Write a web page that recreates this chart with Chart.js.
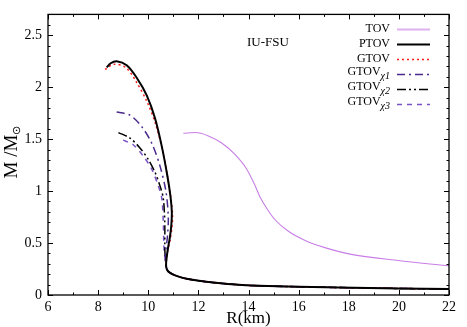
<!DOCTYPE html>
<html>
<head>
<meta charset="utf-8">
<script src="https://cdn.jsdelivr.net/npm/chart.js@4"></script>
<style>
  body { margin: 0; background: #fff; }
  canvas { display: block; }
</style>
</head>
<body>
<canvas id="mr" width="467" height="327"></canvas>
<script>
// mass-radius curves, R in km and M in solar masses
const tovR = [11.40, 11.87, 12.40, 12.93, 13.46, 13.93, 14.26, 14.46, 14.73, 15.06, 15.59, 16.26, 17.05, 18.05, 20.05, 22.0];
const tovM = [1.557, 1.563, 1.531, 1.462, 1.352, 1.21, 1.054, 0.943, 0.833, 0.724, 0.613, 0.525, 0.456, 0.393, 0.33, 0.28];

// shared low-mass branch
const tailR = [10.73, 10.71, 10.74, 10.83, 11.07, 11.53, 12.40, 13.9, 15.5, 17.6, 20.0, 22.0];
const tailM = [0.35, 0.29, 0.25, 0.22, 0.189, 0.157, 0.125, 0.094, 0.082, 0.072, 0.063, 0.057];

const ptovR = [8.34, 8.50, 8.74, 9.14, 9.54, 9.94, 10.27, 10.54, 10.76, 10.88, 10.94, 10.92, 10.86, 10.78].concat(tailR);
const ptovM = [2.19, 2.23, 2.25, 2.21, 2.09, 1.92, 1.70, 1.43, 1.15, 0.96, 0.80, 0.67, 0.55, 0.44].concat(tailM);

const gtovR = [8.28, 8.62, 9.10, 9.50, 9.95, 10.30, 10.58, 10.80, 10.92, 10.97, 10.94, 10.87, 10.78].concat(tailR);
const gtovM = [2.17, 2.22, 2.19, 2.06, 1.86, 1.64, 1.38, 1.10, 0.90, 0.76, 0.64, 0.53, 0.43].concat(tailM);

const chi1R = [8.74, 9.27, 9.74, 10.14, 10.47, 10.71, 10.80, 10.76, 10.70].concat(tailR.slice(1));
const chi1M = [1.76, 1.73, 1.62, 1.46, 1.24, 0.99, 0.74, 0.55, 0.42].concat(tailM.slice(1));

const chi2R = [8.81, 9.27, 9.67, 10.00, 10.27, 10.47, 10.60, 10.66, 10.66, 10.67].concat(tailR.slice(1));
const chi2M = [1.563, 1.51, 1.415, 1.305, 1.18, 1.05, 0.93, 0.70, 0.50, 0.38].concat(tailM.slice(1));

const chi3R = [9.00, 9.40, 9.80, 10.14, 10.40, 10.54, 10.60, 10.62, 10.65].concat(tailR.slice(1));
const chi3M = [1.49, 1.446, 1.337, 1.21, 1.05, 0.93, 0.70, 0.50, 0.38].concat(tailM.slice(1));

const seriesNames = ['TOV', 'PTOV', 'GTOV', 'GTOV', 'GTOV', 'GTOV'];
const seriesSubs = ['', '', '', 'χ1', 'χ2', 'χ3'];
const xTicks = [6, 8, 10, 12, 14, 16, 18, 20, 22];
const yTicks = [0, 0.5, 1, 1.5, 2, 2.5];

const serif = "'Liberation Serif'";

function pts(xs, ys) {
  return xs.map((x, i) => ({x: x, y: ys[i]}));
}

function line(i, xs, ys, color, width, dash) {
  return {
    label: seriesNames[i] + seriesSubs[i],
    data: pts(xs, ys),
    showLine: true,
    borderColor: color,
    backgroundColor: color,
    borderWidth: width,
    borderDash: dash,
    pointRadius: 0,
    tension: 0.3,
    fill: false
  };
}

// frame, inward ticks, titles and legend like the gnuplot original
const decor = {
  id: 'decor',
  afterDraw(chart) {
    const c = chart.ctx;
    const a = chart.chartArea;
    const xs = chart.scales.x, ys = chart.scales.y;
    c.save();
    c.strokeStyle = '#000';
    c.lineWidth = 1.3;
    c.strokeRect(a.left, a.top, a.right - a.left, a.bottom - a.top);
    c.lineWidth = 1;
    c.beginPath();
    for (let k = 0; k <= 27; k++) {
      const v = k / 10;
      const py = Math.round(ys.getPixelForValue(v)) + 0.5;
      const len = k % 5 === 0 ? 5 : 2.5;
      c.moveTo(a.left, py); c.lineTo(a.left + len, py);
      c.moveTo(a.right, py); c.lineTo(a.right - len, py);
    }
    for (let v = 6; v <= 22; v++) {
      const px = Math.round(xs.getPixelForValue(v)) + 0.5;
      const len = v % 2 === 0 ? 5 : 2.5;
      c.moveTo(px, a.bottom); c.lineTo(px, a.bottom - len);
      c.moveTo(px, a.top); c.lineTo(px, a.top + len);
    }
    c.stroke();

    c.fillStyle = '#000';
    // x title
    c.font = '17px ' + serif;
    c.textAlign = 'center';
    c.textBaseline = 'middle';
    c.fillText('R(km)', (a.left + a.right) / 2, 319);

    // y title with sun subscript
    c.save();
    c.translate(12, 152);
    c.rotate(-Math.PI / 2);
    c.font = '19px ' + serif;
    const main = 'M /M';
    const w1 = c.measureText(main).width;
    c.font = '11px ' + serif;
    const w2 = c.measureText('⊙').width;
    c.textAlign = 'left';
    c.font = '19px ' + serif;
    c.fillText(main, -(w1 + w2) / 2, 0);
    c.font = '11px ' + serif;
    c.fillText('⊙', -(w1 + w2) / 2 + w1, 5);
    c.restore();

    // model label
    c.font = '13px ' + serif;
    c.textAlign = 'left';
    c.fillText('IU-FSU', 247, 43);

    // legend
    chart.data.datasets.forEach((ds, i) => {
      const y = 28.5 + 15 * i;
      const sub = seriesSubs[i];
      c.font = '12px ' + serif;
      const wm = c.measureText(seriesNames[i]).width;
      let ws = 0;
      if (sub) {
        c.font = 'italic 10px ' + serif;
        ws = c.measureText(sub).width;
      }
      const right = 390;
      c.textAlign = 'left';
      c.font = '12px ' + serif;
      c.fillText(seriesNames[i], right - ws - wm, sub ? y - 1.5 : y);
      if (sub) {
        c.font = 'italic 10px ' + serif;
        c.fillText(sub, right - ws, y + 3);
      }
      c.beginPath();
      c.strokeStyle = i === 0 ? '#deb0f0' : ds.borderColor;
      c.lineWidth = i === 0 ? 2 : ds.borderWidth;
      c.setLineDash(ds.borderDash || []);
      c.moveTo(397, Math.round(y) + 0.5);
      c.lineTo(430, Math.round(y) + 0.5);
      c.stroke();
      c.setLineDash([]);
    });
    c.restore();
  }
};

const tovSet = line(0, tovR, tovM, '#c87ee6', 1.1, []);
tovSet.cubicInterpolationMode = 'monotone';

new Chart(document.getElementById('mr'), {
  type: 'scatter',
  data: {
    datasets: [
      tovSet,
      line(1, ptovR, ptovM, '#000000', 2, []),
      line(2, gtovR, gtovM, '#ff1a1a', 1.5, [2, 3]),
      line(3, chi1R, chi1M, '#4a2a8c', 1.5, [8, 4, 2, 4]),
      line(4, chi2R, chi2M, '#000000', 1.5, [9, 3, 2, 3, 2, 3]),
      line(5, chi3R, chi3M, '#7a52c6', 1.5, [5, 5])
    ]
  },
  options: {
    responsive: false,
    devicePixelRatio: 1,
    animation: false,
    layout: { padding: { top: 9, right: 18, left: 0, bottom: 0 } },
    plugins: { legend: { display: false }, tooltip: { enabled: false } },
    scales: {
      x: {
        type: 'linear',
        min: 6, max: 22,
        afterFit: s => { s.height = 32; },
        afterBuildTicks: s => { s.ticks = xTicks.map(v => ({value: v})); },
        grid: { display: false, drawTicks: false },
        border: { display: false },
        ticks: { color: '#000', padding: 4, maxRotation: 0, callback: v => String(v), font: { family: serif, size: 14 } }
      },
      y: {
        min: 0, max: 2.7,
        afterFit: s => { s.width = 48; },
        afterBuildTicks: s => { s.ticks = yTicks.map(v => ({value: v})); },
        grid: { display: false, drawTicks: false },
        border: { display: false },
        ticks: { color: '#000', padding: 6, callback: v => String(v), font: { family: serif, size: 14 } }
      }
    }
  },
  plugins: [decor]
});
</script>
</body>
</html>
